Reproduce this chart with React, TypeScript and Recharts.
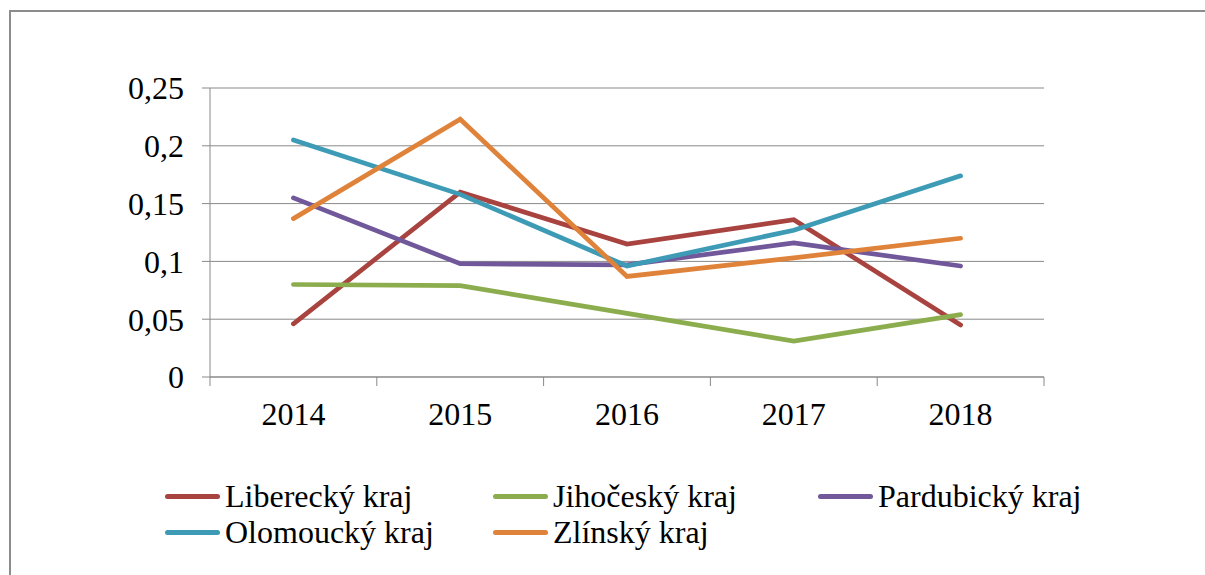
import { LineChart, Line, XAxis, YAxis, CartesianGrid, Legend } from "recharts";

const years = ["2014", "2015", "2016", "2017", "2018"];
const liberecky = [0.046, 0.16, 0.115, 0.136, 0.045];
const jihocesky = [0.08, 0.079, 0.055, 0.031, 0.054];
const pardubicky = [0.155, 0.098, 0.097, 0.116, 0.096];
const olomoucky = [0.205, 0.158, 0.096, 0.127, 0.174];
const zlinsky = [0.137, 0.223, 0.087, 0.103, 0.12];
const yTicks = [0, 0.05, 0.1, 0.15, 0.2, 0.25];

const seriesNames = ["Liberecký kraj", "Jihočeský kraj", "Pardubický kraj", "Olomoucký kraj", "Zlínský kraj"];
const seriesColors = ["#A8433F", "#8CAD4D", "#71589A", "#3E9BB6", "#E0833A"];

const data = years.map((year, i) => ({
  year,
  lib: liberecky[i],
  jih: jihocesky[i],
  par: pardubicky[i],
  olo: olomoucky[i],
  zli: zlinsky[i],
}));
const keys = ["lib", "jih", "par", "olo", "zli"];

const FONT = "'Liberation Serif', 'Times New Roman', serif";
const AXIS = "#898989";
const PLOT_W = 834;
const BAND = PLOT_W / years.length;

function YearTick(props: any) {
  const { x, y, payload, index } = props;
  const last = index === years.length - 1;
  return (
    <g>
      <line x1={x - BAND / 2} x2={x - BAND / 2} y1={y} y2={y + 9} stroke={AXIS} />
      {last && <line x1={x + BAND / 2} x2={x + BAND / 2} y1={y} y2={y + 9} stroke={AXIS} />}
      <text x={x} y={y + 48} textAnchor="middle" fontSize={32} fontFamily={FONT} fill="#000">
        {payload.value}
      </text>
    </g>
  );
}

const colX = [165, 493, 818];
const rowY = [26, 62];

// legend drawn in our own order (Excel order), not recharts' sorted payload
function LegendContent() {
  return (
    <div style={{ position: "relative", width: 1205, height: 90 }}>
      {seriesNames.map((name, i) => (
        <div
          key={name}
          style={{
            position: "absolute",
            left: colX[i % 3],
            top: rowY[Math.floor(i / 3)] - 20,
            height: 40,
            display: "flex",
            alignItems: "center",
            whiteSpace: "nowrap",
          }}
        >
          <span style={{ display: "inline-block", width: 55, height: 5, borderRadius: 3, background: seriesColors[i], marginRight: 5 }} />
          <span style={{ fontFamily: FONT, fontSize: 32, lineHeight: "40px", color: "#000" }}>{name}</span>
        </div>
      ))}
    </div>
  );
}

export default function App() {
  return (
    <div style={{ position: "absolute", left: 0, top: 0, width: 1205, height: 575, overflow: "hidden", background: "#fff" }}>
      <div style={{ position: "absolute", left: 9, top: 10, width: 1300, height: 700, border: "2px solid #8C8C8C" }} />
      <LineChart width={1205} height={575} data={data} margin={{ top: 88, right: 161, left: 0, bottom: 48 }}>
        <CartesianGrid vertical={false} stroke={AXIS} />
        <XAxis
          dataKey="year"
          height={60}
          padding={{ left: BAND / 2, right: BAND / 2 }}
          tickSize={0}
          tickMargin={0}
          tickLine={false}
          axisLine={{ stroke: AXIS }}
          interval={0}
          tick={<YearTick />}
        />
        <YAxis
          width={210}
          domain={[0, 0.25]}
          ticks={yTicks}
          interval={0}
          tickSize={8}
          tickMargin={18}
          axisLine={{ stroke: AXIS }}
          tickLine={{ stroke: AXIS }}
          tick={{ fontSize: 32, fill: "#000", fontFamily: FONT }}
          tickFormatter={(v: number) => String(v).replace(".", ",")}
        />
        <Legend
          verticalAlign="bottom"
          content={<LegendContent />}
          wrapperStyle={{ left: 0, top: 470, bottom: "auto", width: 1205, height: 90 }}
        />
        {keys.map((k, i) => (
          <Line
            key={k}
            dataKey={k}
            name={seriesNames[i]}
            stroke={seriesColors[i]}
            strokeWidth={4.7}
            strokeLinecap="round"
            dot={false}
            activeDot={false}
            isAnimationActive={false}
          />
        ))}
      </LineChart>
    </div>
  );
}
